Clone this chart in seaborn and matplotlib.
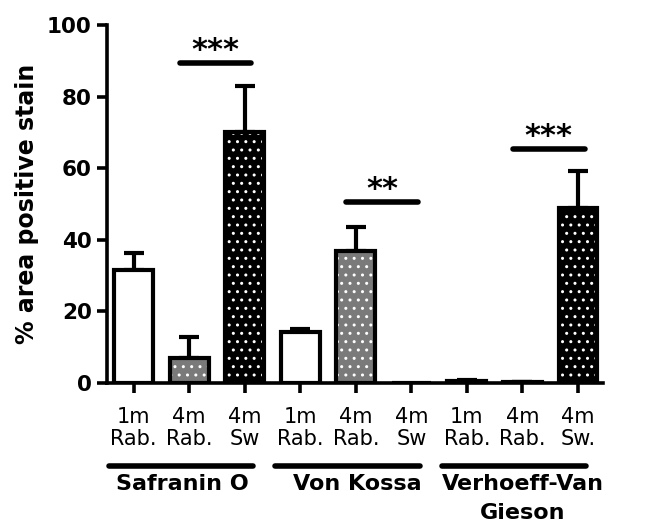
import numpy as np
import pandas as pd
import matplotlib
matplotlib.use("Agg")
import matplotlib.pyplot as plt
import seaborn as sns

# values
groups = ["Safranin O", "Von Kossa", "Verhoeff-Van\nGieson"]
conditions = [
    "1m\nRab.", "4m\nRab.", "4m\nSw",
    "1m\nRab.", "4m\nRab.", "4m\nSw",
    "1m\nRab.", "4m\nRab.", "4m\nSw.",
]
means = [31.6, 6.9, 70.2, 14.3, 37.0, 0.0, 0.5, 0.2, 49.0]
sems = [4.6, 6.0, 12.8, 0.7, 6.5, 0.0, 0.2, 0.1, 10.3]
bar_colors = ["white", "#7a7a7a", "black"] * 3
bar_hatches = ["", "..", ".."] * 3

sig_pairs = [(1, 2), (4, 5), (7, 8)]
sig_heights = [89.3, 50.6, 65.3]
sig_labels = ["***", "**", "***"]

sns.set_style("ticks")
plt.rcParams["font.family"] = ["DejaVu Sans"]
plt.rcParams["text.color"] = "black"
plt.rcParams["axes.labelcolor"] = "black"
plt.rcParams["xtick.color"] = "black"
plt.rcParams["ytick.color"] = "black"
plt.rcParams["axes.edgecolor"] = "black"
plt.rcParams["axes.linewidth"] = 2.6
plt.rcParams["xtick.major.width"] = 2.6
plt.rcParams["ytick.major.width"] = 2.6
plt.rcParams["xtick.major.size"] = 7
plt.rcParams["ytick.major.size"] = 7

df = pd.DataFrame({
    "bar": [str(i) for i in range(len(means))],
    "mean": means,
})
order = list(df["bar"])

fig = plt.figure(figsize=(6.53, 5.32), dpi=100)
ax = fig.add_axes([107 / 653, 1 - 383 / 532, (603 - 107) / 653, 358 / 532])

# error bars (upper only)
x = np.arange(len(means))
has_err = np.array(sems) > 0
ax.errorbar(x[has_err], np.array(means)[has_err],
            yerr=[np.zeros(has_err.sum()), np.array(sems)[has_err]],
            fmt="none", ecolor="black", elinewidth=3, capsize=7.5,
            capthick=3, zorder=1)

# filled bars with white dots
sns.barplot(data=df, x="bar", y="mean", hue="bar", order=order,
            palette=bar_colors, legend=False, width=0.7, errorbar=None,
            edgecolor="white", linewidth=0, ax=ax, zorder=2)
for patch, h in zip(ax.patches, bar_hatches):
    if h:
        patch.set_hatch(h)

# black outlines
sns.barplot(data=df, x="bar", y="mean", order=order, color="black",
            fill=False, width=0.7, errorbar=None, linewidth=3,
            edgecolor="black", ax=ax, zorder=3)

ax.set_xlim(-0.48, 8.45)
ax.set_ylim(0, 100)
ax.set_yticks([0, 20, 40, 60, 80, 100])
ax.set_yticklabels([0, 20, 40, 60, 80, 100], fontsize=15.5, fontweight="bold")
ax.set_xticks(x)
ax.set_xticklabels(conditions, fontsize=15, linespacing=1.15)
ax.tick_params(axis="x", pad=10)
ax.tick_params(axis="y", pad=4)
ax.set_xlabel("")
ax.set_ylabel("% area positive stain", fontsize=17, fontweight="bold",
              labelpad=6)
sns.despine(ax=ax)

# significance bars
for (i, j), h, lab in zip(sig_pairs, sig_heights, sig_labels):
    ax.plot([i - 0.17, j + 0.12], [h, h], color="black", lw=4,
            solid_capstyle="round", clip_on=False, zorder=4)
    ax.text((i + j) / 2 - 0.03, h - 0.6, lab, ha="center", va="bottom",
            fontsize=22, fontweight="bold")

# group underlines and names below the tick labels
trans = ax.get_xaxis_transform()
label_x = [0.88, 4.02, 7.0]
for k, name in enumerate(groups):
    c = 3 * k + 1
    ax.plot([c - 1.45, c + 1.15], [-0.232, -0.232], color="black", lw=4,
            solid_capstyle="round", transform=trans, clip_on=False)
    ax.text(label_x[k], -0.255, name, ha="center", va="top",
            fontsize=16, fontweight="bold", transform=trans,
            linespacing=1.55)

fig.savefig("out.png", dpi=100)
